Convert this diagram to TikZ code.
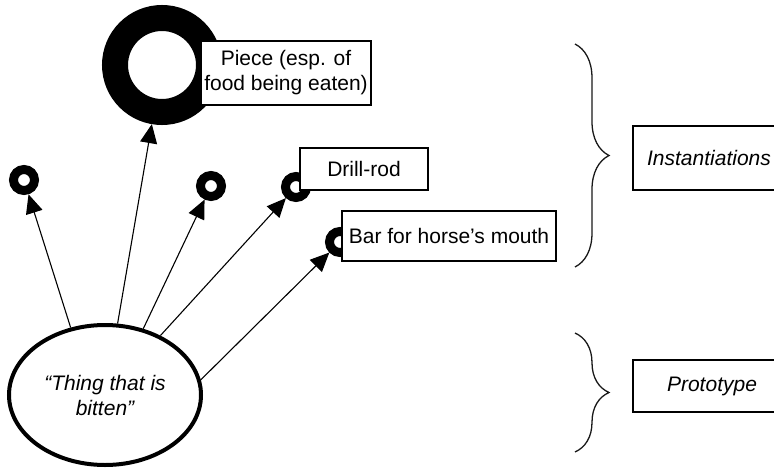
\documentclass[tikz,border=0pt]{standalone}
\usepackage{fontspec}
\setmainfont{Liberation Sans}
\usetikzlibrary{arrows.meta,shapes.geometric,decorations.pathreplacing}

\begin{document}
\begin{tikzpicture}[x=1pt, y=-1pt, font=\fontsize{21}{25}\selectfont,
		ring_style/.style={circle,draw=black,line width=9pt,minimum size=21pt,inner sep=0pt,outer sep=4.5pt},
		big_ring_style/.style={circle,draw=black,line width=26pt,minimum size=94pt,inner sep=0pt,outer sep=13pt},
		box_style/.style={rectangle,draw=black,fill=white,line width=1.2pt,inner sep=2pt,align=center},
		thing_style/.style={ellipse,draw=black,line width=4pt,minimum width=192pt,minimum height=140pt,align=center,font=\fontsize{21}{25}\selectfont\itshape},
		edge_style/.style={draw=black,line width=1.1pt,-{Triangle[length=19pt,width=17pt]}},
		brace_style/.style={draw=black!90,line width=1.3pt,decorate,decoration={brace,amplitude=34pt}}]
		
		\useasboundingbox (0,0) rectangle (774,471);
		\clip (0,0) rectangle (774,471);
		
		% instances
		\node[ring_style] (ring1) at (24,180) {};
		\node[big_ring_style] (ring0) at (162,65) {};
		\node[ring_style] (ring2) at (211,186) {};
		\node[ring_style] (ring3) at (296,187) {};
		\node[ring_style] (ring4) at (340,242) {};
		
		\node[box_style,minimum width=170pt,minimum height=64pt] (piece) at (286,73) {Piece (esp. of\\food being eaten)};
		\node[box_style,minimum width=128pt,minimum height=42pt] (drill) at (364,169) {Drill-rod};
		\node[box_style,minimum width=214pt,minimum height=50pt] (bar) at (449,236) {Bar for horse’s mouth};
		
		% prototype
		\node[thing_style] (thing) at (105,395) {“Thing that is\\bitten”};
		
		\draw[edge_style]  (thing.117) -- (ring1);
		\draw[edge_style]  (thing.80) -- (ring0);
		\draw[edge_style]  (thing.60) -- (ring2);
		\draw[edge_style]  (thing.47) -- (ring3);
		\draw[edge_style]  (thing.9) -- (ring4);
		
		% levels
		\coordinate (b1top) at (575,44);
		\coordinate (b1bot) at (575,267);
		\coordinate (b2top) at (575,333);
		\coordinate (b2bot) at (575,452);
		\draw[brace_style] (b1top) -- (b1bot);
		\draw[brace_style] (b2top) -- (b2bot);
		
		\node[box_style,font=\fontsize{21}{25}\selectfont\itshape,minimum width=152pt,minimum height=64pt] (inst) at (709,158) {Instantiations};
		\node[box_style,font=\fontsize{21}{25}\selectfont\itshape,minimum width=158pt,minimum height=52pt] (proto) at (712,386) {Prototype};
		
\end{tikzpicture}
\end{document}
